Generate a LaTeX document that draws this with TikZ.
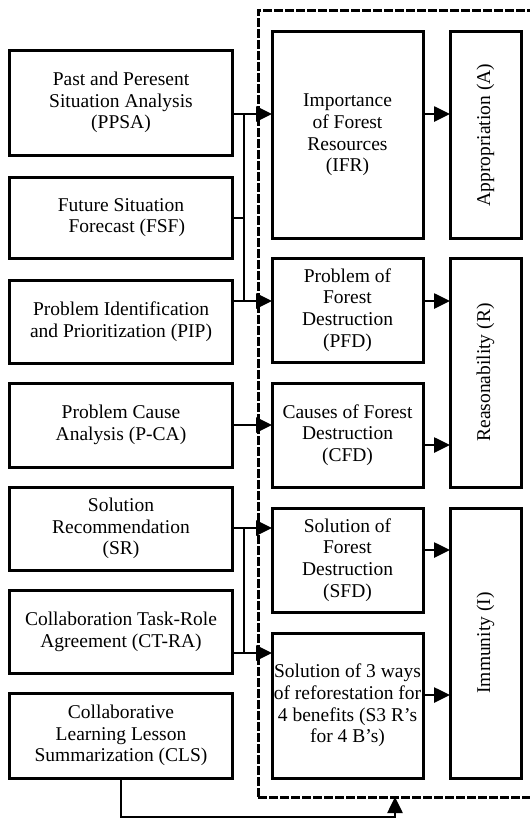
\documentclass[tikz,border=0pt]{standalone}
\usepackage{fontspec}
\setmainfont{Liberation Serif}
\usetikzlibrary{arrows.meta}
\begin{document}
\begin{tikzpicture}[x=1bp,y=-1bp,
  box/.style={draw, line width=3bp, align=center, inner sep=0pt, outer sep=0pt,
    font=\fontsize{19.5bp}{21.7bp}\selectfont},
  lbox/.style={box, minimum width=222bp},
  mbox/.style={box, minimum width=151bp},
  rbox/.style={box, minimum width=71bp},
  vtext/.style={rotate=90, inner sep=0pt, font=\fontsize{19.5bp}{21.7bp}\selectfont},
  conn/.style={line width=2.6bp},
  arr/.style={conn, -{Triangle[length=16bp,width=15bp]}},
  frame/.style={line width=3bp, dash pattern=on 9bp off 2bp}]
\clip (0,0) rectangle (530,823);
\fill[white] (0,0) rectangle (530,823);
% dashed frame
\draw[frame] (258,797) -- (258,10) -- (545,10);
\draw[frame] (258,797) -- (545,797);
\coordinate (frameB) at (395,797);
% left column
\node[lbox, minimum height=105bp] (PPSA) at (121,102.5) {Past and Peresent\\Situation Analysis\\(PPSA)};
\node[lbox, minimum height=81bp] (FSF) at (121,217.5) {Future Situation\\\hspace*{0.6em}Forecast (FSF)};
\node[lbox, minimum height=83bp] (PIP) at (121,321.5) {Problem Identification\\and Prioritization (PIP)};
\node[lbox, minimum height=84bp] (PCA) at (121,425) {Problem Cause\\Analysis (P-CA)};
\node[lbox, minimum height=83bp] (SR) at (121,528.5) {Solution\\Recommendation\\(SR)};
\node[lbox, minimum height=83bp] (CTRA) at (121,631.5) {Collaboration Task-Role\\Agreement (CT-RA)};
\node[lbox, minimum height=85bp] (CLS) at (121,735.5) {Collaborative\\Learning Lesson\\Summarization (CLS)};
% middle column
\node[mbox, minimum height=206bp] (IFR) at (347.5,135) {Importance\\of Forest\\Resources\\(IFR)};
\node[mbox, minimum height=104bp] (PFD) at (347.5,310) {\raisebox{-5bp}{\parbox{151bp}{\centering Problem of\\Forest\\Destruction\\(PFD)}}};
\node[mbox, minimum height=104bp] (CFD) at (347.5,435) {Causes of Forest\\Destruction\\(CFD)};
\node[mbox, minimum height=104bp] (SFD) at (347.5,560) {Solution of\\Forest\\Destruction\\(SFD)};
\node[mbox, minimum height=145bp] (S3R) at (347.5,705.5) {Solution of 3 ways\\of reforestation for\\4 benefits (S3 R's\\for 4 B's)};
% right column
\node[rbox, minimum height=206bp] (A) at (485.5,135) {};
\node[vtext] (Atext) at (A.center) {Appropriation (A)};
\node[rbox, minimum height=229bp] (R) at (485.5,372.5) {};
\node[vtext] (Rtext) at (R.center) {Reasonability (R)};
\node[rbox, minimum height=270bp] (I) at (485.5,643) {};
\node[vtext] (Itext) at (I.center) {Immunity (I)};
% helper coordinates
\coordinate (y1) at (0,114);
\coordinate (yF) at (0,218);
\coordinate (y2) at (0,301);
\coordinate (y3) at (0,425);
\coordinate (y3b) at (0,445);
\coordinate (y4) at (0,528);
\coordinate (y4b) at (0,550);
\coordinate (y5) at (0,653);
\coordinate (y5b) at (0,695);
\coordinate (b1t) at (244,114);
\coordinate (b1m) at (244,218);
\coordinate (b1b) at (244,301);
\coordinate (b2t) at (244,528);
\coordinate (b2b) at (244,653);
\coordinate (cl1) at (108,817);
\coordinate (cl2) at (395,817);
% connectors left -> middle
\draw[arr] (PPSA.east |- y1) -- (IFR.west |- y1);
\draw[conn] (b1t) -- (b1b);
\draw[conn] (FSF.east |- yF) -- (b1m);
\draw[arr] (PIP.east |- y2) -- (PFD.west |- y2);
\draw[arr] (PCA.east |- y3) -- (CFD.west |- y3);
\draw[arr] (SR.east |- y4) -- (SFD.west |- y4);
\draw[conn] (b2t) -- (b2b);
\draw[arr] (CTRA.east |- y5) -- (S3R.west |- y5);
% middle -> right
\draw[arr] (IFR.east |- y1) -- (A.west |- y1);
\draw[arr] (PFD.east |- y2) -- (R.west |- y2);
\draw[arr] (CFD.east |- y3b) -- (R.west |- y3b);
\draw[arr] (SFD.east |- y4b) -- (I.west |- y4b);
\draw[arr] (S3R.east |- y5b) -- (I.west |- y5b);
% CLS loop
\draw[arr] (CLS.south) -- (CLS.south |- cl1) -- (cl2) -- (frameB);
\end{tikzpicture}
\end{document}
